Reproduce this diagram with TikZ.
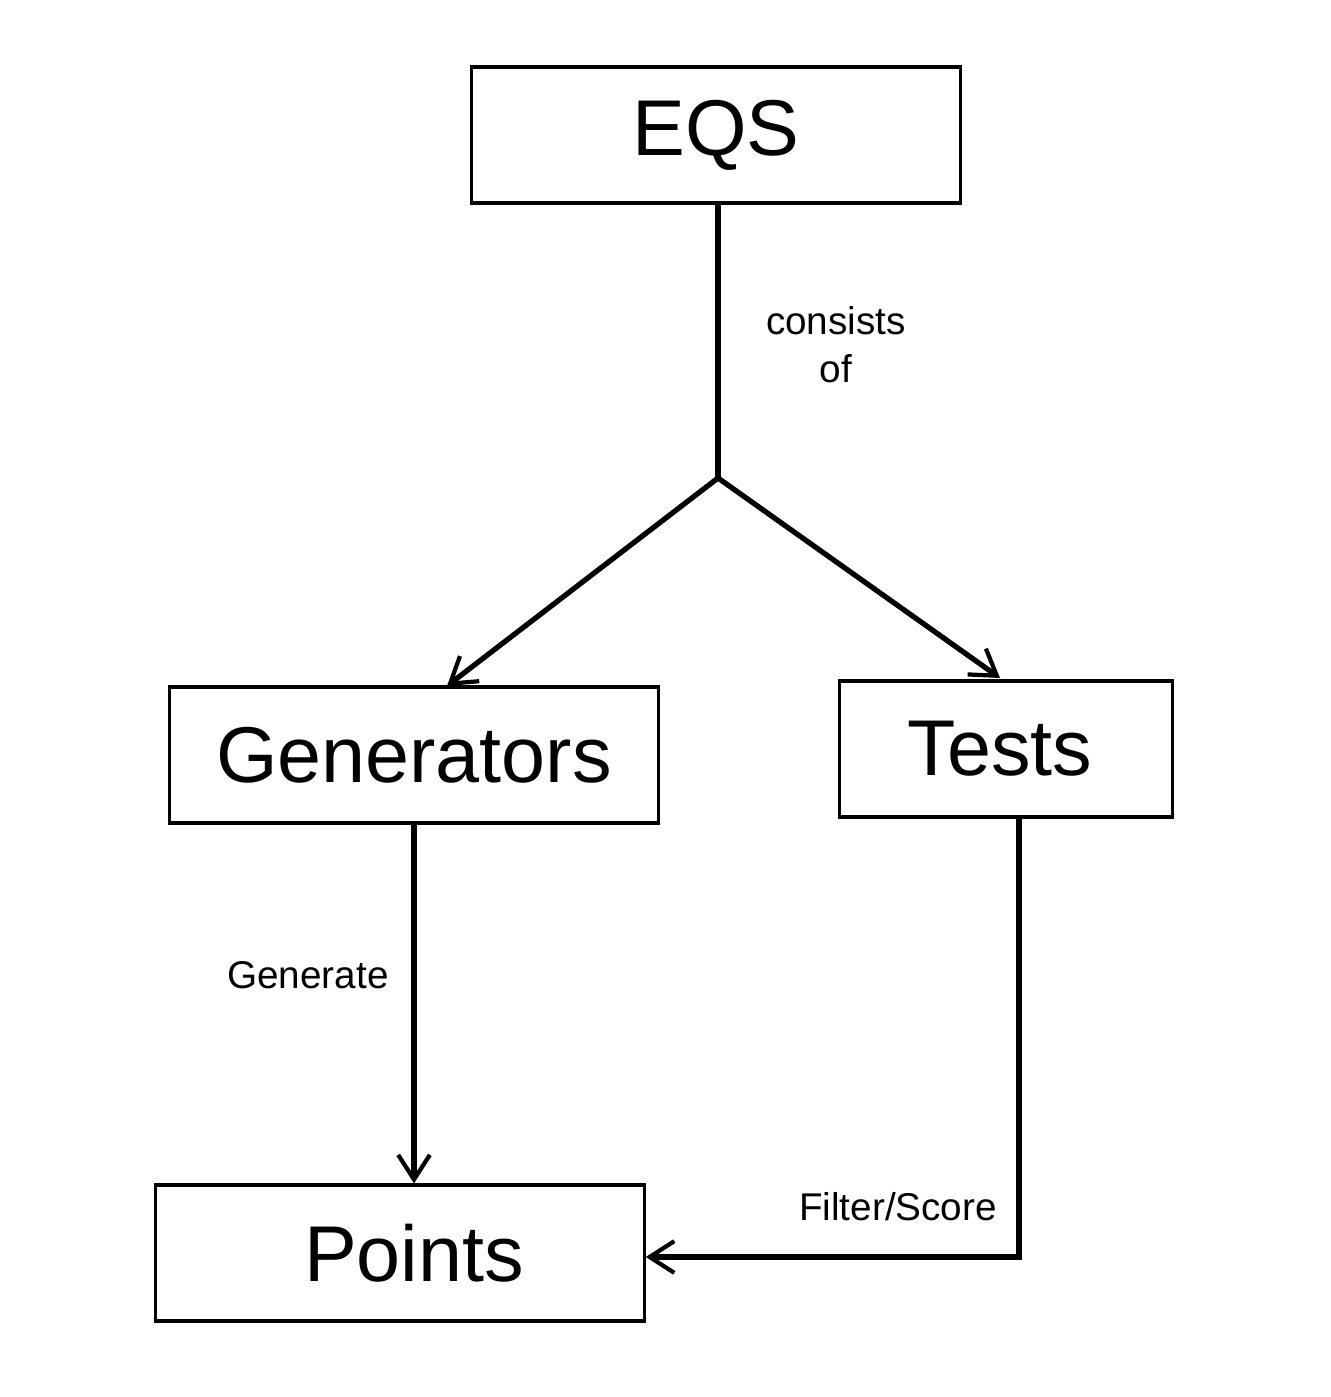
\documentclass[tikz,border=0pt]{standalone}
\usepackage{fontspec}
\setmainfont{Liberation Sans}
\usetikzlibrary{arrows.meta}
\begin{document}
\begin{tikzpicture}[x=0.01cm,y=-0.01cm,
  box/.style={draw,line width=0.9pt,minimum height=1.36cm,inner sep=0pt,font=\fontsize{22.5}{27}\selectfont},
  conn/.style={line width=1.5pt},
  arr/.style={conn,-{Straight Barb[length=7pt,width=9pt,line width=1.2pt]}},
  lab/.style={font=\fontsize{11}{13.6}\selectfont,align=center,inner sep=0pt}]
\useasboundingbox (0,0) rectangle (1331,1397);
\node[box,minimum width=4.88cm] (eqs) at (716,135) {EQS};
\node[box,minimum width=4.88cm] (gen) at (414,755) {Generators};
\node[box,minimum width=3.32cm] (tests) at (1006,749) {Tests\hspace*{0.12cm}};
\node[box,minimum width=4.88cm] (pts) at (400,1253) {\hspace*{0.28cm}Points};
\coordinate (j) at (718,478);
\coordinate (gtip) at (447,686);
\coordinate (ttip) at (1000,678);
\coordinate (tb) at (1019,817);
\coordinate (tc) at (1019,1257);
\draw[conn] (eqs.south -| j) -- (j);
\draw[arr] (j) -- (gtip);
\draw[arr] (j) -- (ttip);
\draw[arr] (gen.south) -- (gen.south |- pts.north);
\draw[line width=1.8pt] (tb) -- ([yshift=-0.03cm]tc);
\draw[arr] (tc) -- (pts.east |- tc);
\node[lab] (l1) at (836,345) {consists\\of};
\node[lab] (l2) at (308,975) {Generate};
\node[lab] (l3) at (898,1207) {Filter/Score};
\end{tikzpicture}
\end{document}
